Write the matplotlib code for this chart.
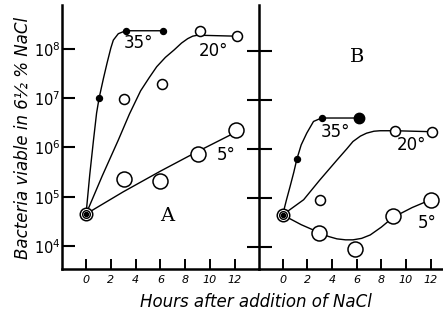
import numpy as np
import matplotlib.pyplot as plt
from matplotlib.ticker import NullLocator

plt.rcParams.update({
    "font.family": "DejaVu Sans",
    "mathtext.fontset": "dejavusans",
})

# ----------------------------
# Data (log10 of viable bacteria)
# ----------------------------
start_h = 0.0
start_log = 4.65

# Panel A -- observed points
a35_h = [1.05, 3.2, 6.2]
a35_log = [7.0, 8.37, 8.37]
a20_h = [3.1, 6.15, 9.2, 12.2]
a20_log = [6.98, 7.29, 8.37, 8.26]
a5_h = [3.05, 6.0, 9.05, 12.1]
a5_log = [5.37, 5.31, 5.87, 6.36]

# Panel A -- hand drawn curves
a35_curve_h = [0, 0.3, 0.6, 0.85, 1.05, 1.4, 1.7, 2.0, 2.2, 2.6, 3.2, 6.2]
a35_curve_log = [4.65, 5.45, 6.15, 6.7, 7.0, 7.4, 7.72, 8.02, 8.18, 8.31, 8.37, 8.37]
a20_curve_h = [0, 1.3, 2.6, 3.5, 4.4, 5.1, 5.7, 6.4, 7.1, 7.7, 8.2, 8.6, 9.0, 12.1]
a20_curve_log = [4.65, 5.42, 6.15, 6.68, 7.15, 7.42, 7.64, 7.83, 7.98, 8.12, 8.21, 8.26, 8.28, 8.26]
a5_curve_h = [0, 3.0, 6.0, 8.7, 12.0]
a5_curve_log = [4.65, 5.10, 5.52, 5.88, 6.30]

# Panel B -- observed points
b35_h = [1.15, 3.15, 6.2]
b35_log = [5.79, 6.63, 6.63]
b20_h = [3.05, 9.1, 12.1]
b20_log = [4.96, 6.37, 6.35]
b5_h = [2.95, 5.9, 8.95, 12.0]
b5_log = [4.29, 3.95, 4.63, 4.96]

# Panel B -- hand drawn curves
b35_curve_h = [0, 0.3, 0.6, 0.9, 1.15, 1.5, 1.95, 2.5, 3.15, 6.2]
b35_curve_log = [4.65, 4.95, 5.23, 5.52, 5.79, 6.08, 6.32, 6.56, 6.63, 6.63]
b20_curve_h = [0, 1.7, 3.0, 4.4, 5.2, 5.7, 6.3, 6.8, 7.4, 7.9, 9.1, 12.1]
b20_curve_log = [4.65, 4.96, 5.36, 5.77, 6.0, 6.15, 6.26, 6.32, 6.36, 6.37, 6.37, 6.35]
b5_curve_h = [0, 1.5, 2.95, 3.7, 4.4, 5.1, 5.7, 6.4, 7.1, 8.0, 8.95, 10.5, 12.0]
b5_curve_log = [4.65, 4.45, 4.29, 4.21, 4.16, 4.14, 4.14, 4.17, 4.24, 4.40, 4.60, 4.80, 4.96]

x_ticks = [0, 2, 4, 6, 8, 10, 12]
y_ticks = [4, 5, 6, 7, 8]

W, H = 443, 313


def p(v):
    return 10 ** np.asarray(v, dtype=float)


def curve(ax, h, lg):
    ax.plot(h, p(lg), color="black", lw=1.0, zorder=2)


def open_pts(ax, h, lg, ms):
    ax.plot(h, p(lg), "o", ms=ms, mfc="white", mec="black", mew=1.1, ls="none", zorder=3)


def filled_pts(ax, h, lg, ms):
    ax.plot(h, p(lg), "o", ms=ms, mfc="black", mec="black", ls="none", zorder=3)


def start_mark(ax):
    ax.plot([start_h], p([start_log]), "o", ms=9, mfc="white", mec="black", mew=1.1, zorder=4)
    ax.plot([start_h], p([start_log]), "o", ms=5.5, mfc="white", mec="black", mew=1.0, zorder=5)
    ax.plot([start_h], p([start_log]), "o", ms=3, mfc="black", mec="black", zorder=6)


def style_axis(ax, xlim, ylim):
    ax.set_yscale("log")
    ax.set_xlim(*xlim)
    ax.set_ylim(10 ** ylim[0], 10 ** ylim[1])
    ax.yaxis.set_minor_locator(NullLocator())
    ax.set_xticks(x_ticks)
    ax.set_xticklabels([str(t) for t in x_ticks], fontstyle="italic", fontsize=8)
    ax.tick_params(axis="x", direction="in", length=7, width=1.4, pad=4)
    for s in ["top", "right"]:
        ax.spines[s].set_visible(False)
    for s in ["left", "bottom"]:
        ax.spines[s].set_linewidth(1.8)
    ax.patch.set_alpha(0)


fig = plt.figure(figsize=(W / 100, H / 100), dpi=100)

axA = fig.add_axes([62 / W, 1 - 269 / H, (259 - 62) / W, (269 - 5) / H])
axB = fig.add_axes([259 / W, 1 - 269 / H, (443 - 259) / W, (269 - 5) / H])

# ---- Panel A
style_axis(axA, (-1.94, 13.95), (3.533, 8.893))
axA.set_yticks(p(y_ticks))
axA.set_yticklabels([rf"$\mathit{{10}}^{{\mathit{{{t}}}}}$" for t in y_ticks], fontsize=10.5)
axA.tick_params(axis="y", direction="in", length=9.5, width=1.5, pad=1)

curve(axA, a35_curve_h, a35_curve_log)
curve(axA, a20_curve_h, a20_curve_log)
curve(axA, a5_curve_h, a5_curve_log)
filled_pts(axA, a35_h, a35_log, 4.3)
open_pts(axA, a20_h, a20_log, 7.2)
open_pts(axA, a5_h, a5_log, 10.8)
start_mark(axA)

axA.text(4.24, p(8.12), "35°", fontsize=12, ha="center", va="center")
axA.text(10.3, p(7.95), "20°", fontsize=12, ha="center", va="center")
axA.text(11.27, p(5.85), "5°", fontsize=12, ha="center", va="center")
axA.text(6.55, p(4.6), "A", fontsize=14, family="DejaVu Serif", ha="center", va="center")

# ---- Panel B
style_axis(axB, (-1.92, 13.0), (3.544, 8.94))
axB.set_yticks(p(y_ticks))
axB.set_yticklabels([])
axB.tick_params(axis="y", direction="inout", length=18, width=1.5)
axB.spines["left"].set_zorder(5)

curve(axB, b35_curve_h, b35_curve_log)
curve(axB, b20_curve_h, b20_curve_log)
curve(axB, b5_curve_h, b5_curve_log)
filled_pts(axB, b35_h[:2], b35_log[:2], 4.3)
filled_pts(axB, b35_h[2:], b35_log[2:], 7.5)
open_pts(axB, b20_h, b20_log, 7.2)
open_pts(axB, b5_h, b5_log, 10.8)
start_mark(axB)

axB.text(4.24, p(6.35), "35°", fontsize=12, ha="center", va="center")
axB.text(10.46, p(6.08), "20°", fontsize=12, ha="center", va="center")
axB.text(11.68, p(4.48), "5°", fontsize=12, ha="center", va="center")
axB.text(6.03, p(7.88), "B", fontsize=14, family="DejaVu Serif", ha="center", va="center")

# ---- Axis titles
fig.text(23 / W, 1 - 138 / H, "Bacteria viable in 6½ % NaCl", rotation=90,
         fontsize=12, fontstyle="italic", ha="center", va="center")
fig.text(256 / W, 1 - 302 / H, "Hours after addition of NaCl",
         fontsize=12, fontstyle="italic", ha="center", va="center")

fig.savefig("out.png", dpi=100)
